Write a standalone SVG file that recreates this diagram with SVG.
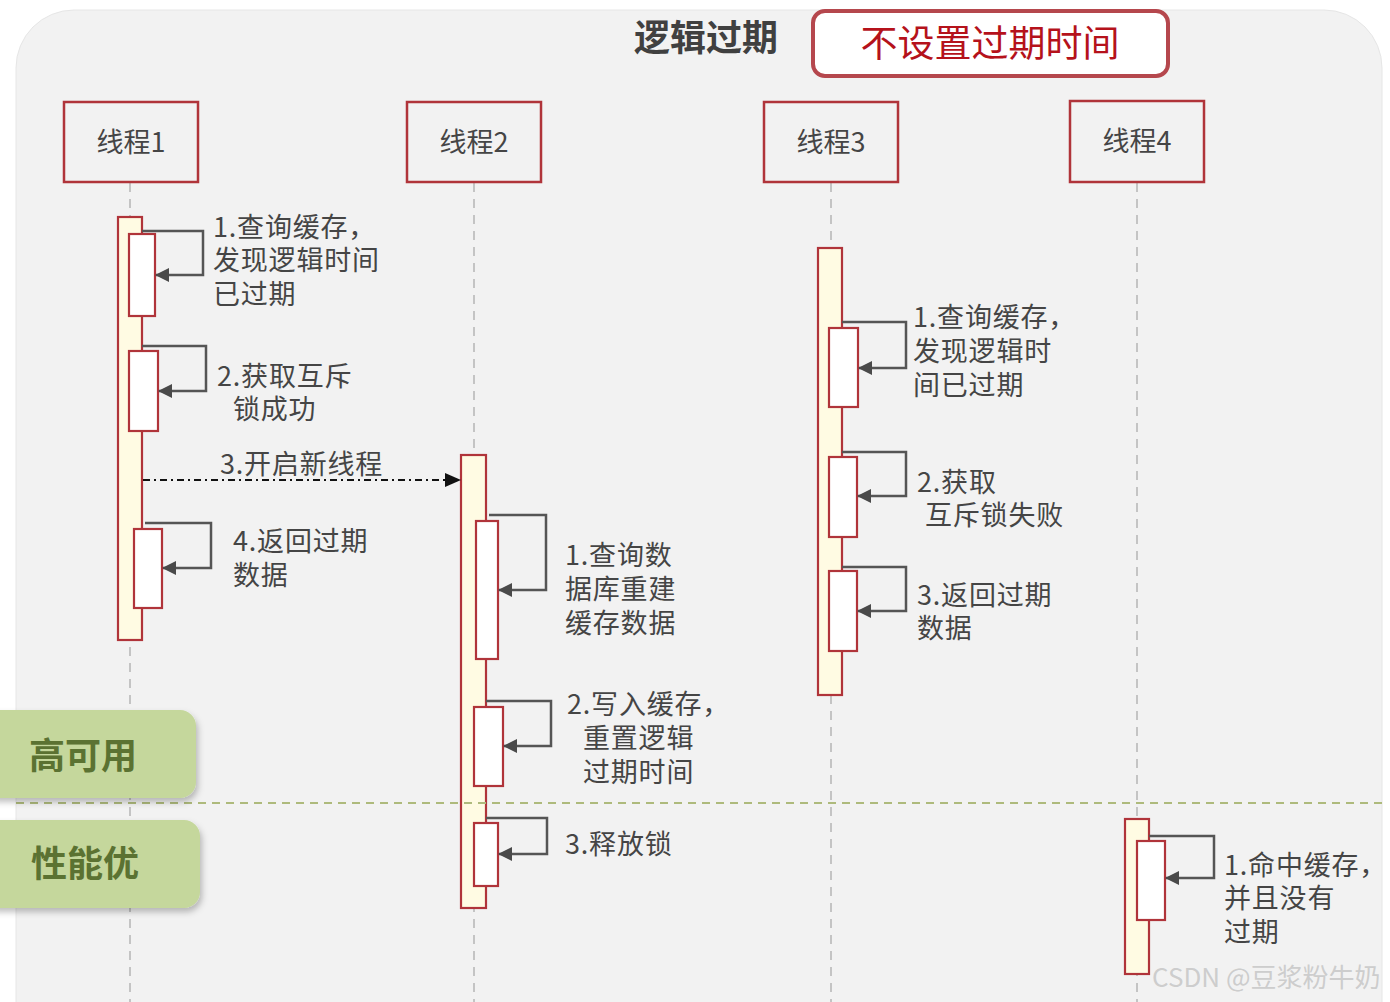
<svg xmlns="http://www.w3.org/2000/svg" width="1390" height="1002" viewBox="0 0 1390 1002">
<defs>
<style>
.t{font-family:"Noto Sans CJK SC","Noto Sans",sans-serif;font-size:27px;letter-spacing:0.8px;fill:#454545;}
.th{font-family:"Noto Sans CJK SC","Noto Sans",sans-serif;font-size:27px;fill:#454545;text-anchor:middle;}
.thr{fill:#f2f2f2;stroke:#b0343a;stroke-width:2.5;}
.life{stroke:#c4c4c4;stroke-width:2;stroke-dasharray:9 7;fill:none;}
.act{fill:#fffbe3;stroke:#b0343a;stroke-width:2.2;}
.inn{fill:#ffffff;stroke:#b0343a;stroke-width:2.2;}
.loop{fill:none;stroke:#555555;stroke-width:2.5;}
.grn{fill:#c5d79c;}
.gt{font-family:"Noto Sans CJK SC","Noto Sans",sans-serif;font-size:36px;font-weight:bold;fill:#5b7232;text-anchor:middle;}
</style>
<marker id="ah" markerUnits="userSpaceOnUse" markerWidth="14" markerHeight="14" refX="13" refY="7" orient="auto">
<path d="M0,0 L14,7 L0,14 Z" fill="#4a4a4a"/>
</marker>
<marker id="ahb" markerUnits="userSpaceOnUse" markerWidth="16" markerHeight="16" refX="15" refY="8" orient="auto">
<path d="M0,1 L16,8 L0,15 Z" fill="#111111"/>
</marker>
<filter id="sh" x="-10%" y="-10%" width="130%" height="140%">
<feDropShadow dx="2" dy="4" stdDeviation="3" flood-color="#000000" flood-opacity="0.25"/>
</filter>
</defs>
<rect x="0" y="0" width="1390" height="1002" fill="#ffffff"/>
<rect x="16" y="10" width="1366" height="1060" rx="58" fill="#f2f2f2" stroke="#e6e6e6" stroke-width="1"/>

<g id="title">
<text x="706" y="51" font-family="'Noto Sans CJK SC',sans-serif" font-size="36" font-weight="bold" fill="#404040" text-anchor="middle">逻辑过期</text>
</g>
<g id="note">
<rect x="813" y="11" width="355" height="65" rx="12" fill="#ffffff" stroke="#b5474d" stroke-width="4"/>
<text x="990" y="57" font-family="'Noto Sans CJK SC',sans-serif" font-size="37" fill="#b5121b" text-anchor="middle">不设置过期时间</text>
</g>

<g id="lifelines">
<line class="life" x1="130" y1="183" x2="130" y2="1002"/>
<line class="life" x1="474" y1="183" x2="474" y2="1002"/>
<line class="life" x1="831" y1="183" x2="831" y2="1002"/>
<line class="life" x1="1137" y1="183" x2="1137" y2="1002"/>
</g>

<g id="thread1">
<rect class="thr" x="64" y="102" width="134" height="80"/>
<text class="th" x="131" y="152">线程1</text>
<rect class="act" x="118" y="217" width="24" height="423"/>
<rect class="inn" x="129" y="234" width="26" height="82"/>
<rect class="inn" x="129" y="351" width="29" height="80"/>
<rect class="inn" x="134" y="529" width="28" height="79"/>
</g>
<g id="thread2">
<rect class="thr" x="407" y="102" width="134" height="80"/>
<text class="th" x="474" y="152">线程2</text>
<rect class="act" x="461" y="455" width="25" height="453"/>
<rect class="inn" x="476" y="521" width="22" height="138"/>
<rect class="inn" x="474" y="707" width="29" height="79"/>
<rect class="inn" x="474" y="823" width="24" height="63"/>
</g>
<g id="thread3">
<rect class="thr" x="764" y="102" width="134" height="80"/>
<text class="th" x="831" y="152">线程3</text>
<rect class="act" x="818" y="248" width="24" height="447"/>
<rect class="inn" x="829" y="328" width="29" height="79"/>
<rect class="inn" x="829" y="457" width="28" height="80"/>
<rect class="inn" x="829" y="571" width="28" height="80"/>
</g>
<g id="thread4">
<rect class="thr" x="1070" y="101" width="134" height="81"/>
<text class="th" x="1137" y="151">线程4</text>
<rect class="act" x="1125" y="819" width="24" height="155"/>
<rect class="inn" x="1137" y="841" width="28" height="79"/>
</g>

<g id="connectors">
<path class="loop" d="M142,231 H203 V275 H156" marker-end="url(#ah)"/>
<path class="loop" d="M142,346 H206 V391 H159" marker-end="url(#ah)"/>
<path class="loop" d="M145,523 H211 V568 H163" marker-end="url(#ah)"/>
<path d="M143,480 H460" fill="none" stroke="#111111" stroke-width="2" stroke-dasharray="7 4 2 4" marker-end="url(#ahb)"/>
<path class="loop" d="M489,515 H546 V590 H499" marker-end="url(#ah)"/>
<path class="loop" d="M486,701 H551 V746 H504" marker-end="url(#ah)"/>
<path class="loop" d="M486,818 H547 V854 H499" marker-end="url(#ah)"/>
<path class="loop" d="M842,322 H906 V368 H859" marker-end="url(#ah)"/>
<path class="loop" d="M842,452 H906 V496 H858" marker-end="url(#ah)"/>
<path class="loop" d="M842,567 H906 V611 H858" marker-end="url(#ah)"/>
<path class="loop" d="M1149,836 H1214 V878 H1166" marker-end="url(#ah)"/>
</g>

<g id="labels">
<text class="t" x="213" y="237">1.查询缓存，<tspan x="213" dy="33">发现逻辑时间</tspan><tspan x="213" dy="34">已过期</tspan></text>
<text class="t" x="217" y="386">2.获取互斥<tspan x="233" dy="33">锁成功</tspan></text>
<text class="t" x="220" y="474">3.开启新线程</text>
<text class="t" x="233" y="551">4.返回过期<tspan x="233" dy="34">数据</tspan></text>
<text class="t" x="565" y="565">1.查询数<tspan x="565" dy="34">据库重建</tspan><tspan x="565" dy="34">缓存数据</tspan></text>
<text class="t" x="567" y="714">2.写入缓存，<tspan x="583" dy="34">重置逻辑</tspan><tspan x="583" dy="34">过期时间</tspan></text>
<text class="t" x="565" y="854">3.释放锁</text>
<text class="t" x="913" y="327">1.查询缓存，<tspan x="913" dy="34">发现逻辑时</tspan><tspan x="913" dy="34">间已过期</tspan></text>
<text class="t" x="917" y="492">2.获取<tspan x="925" dy="33">互斥锁失败</tspan></text>
<text class="t" x="917" y="605">3.返回过期<tspan x="917" dy="33">数据</tspan></text>
<text class="t" x="1224" y="875">1.命中缓存，<tspan x="1224" dy="33">并且没有</tspan><tspan x="1224" dy="34">过期</tspan></text>
</g>

<g id="divider">
<line x1="16" y1="803" x2="1382" y2="803" stroke="#aeba7c" stroke-width="2" stroke-dasharray="8 6"/>
</g>
<g id="high-availability">
<rect class="grn" x="-20" y="710" width="216" height="88" rx="16" filter="url(#sh)"/>
<text class="gt" x="83" y="769">高可用</text>
</g>
<g id="performance">
<rect class="grn" x="-20" y="820" width="220" height="88" rx="16" filter="url(#sh)"/>
<text class="gt" x="85" y="877">性能优</text>
</g>
<g id="watermark">
<text x="1152" y="987" font-family="'Noto Sans CJK SC',sans-serif" font-size="26" fill="#c8c8c8" fill-opacity="0.9">CSDN @豆浆粉牛奶</text>
</g>
</svg>
